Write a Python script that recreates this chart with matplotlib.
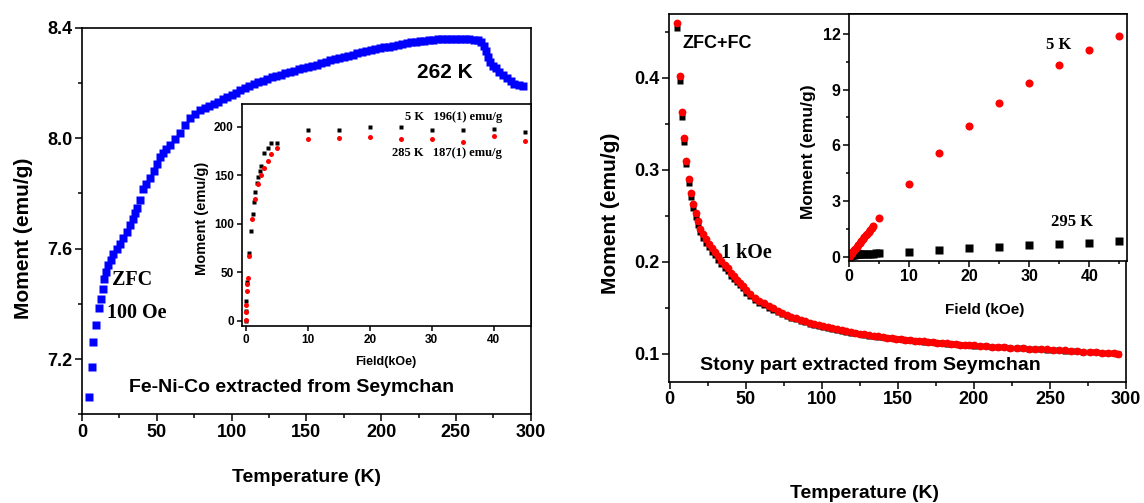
import numpy as np
import matplotlib
matplotlib.use('Agg')
import matplotlib.pyplot as plt
from matplotlib.ticker import MultipleLocator

plt.rcParams['font.family'] = 'Liberation Sans'
plt.rcParams['font.weight'] = 'bold'

W, H = 1144, 503
SERIF = 'Liberation Serif'

# ---- left panel: Fe-Ni-Co, ZFC 100 Oe ----
t_feni = [5, 6.5, 7.6, 9.4, 11.2, 12.5, 13.9, 15, 16.1, 17.7, 19.2, 21, 23.2, 25.5, 27.7, 29.9,
          32.2, 34.4, 35.5, 36.6, 38.8, 41, 43, 45.5, 48, 50, 52, 54, 56.5, 59, 62, 65.6, 69,
          72.3, 75.5, 78.9, 82, 85, 88, 91, 94, 97, 100, 103, 106, 109, 112, 115, 118, 121, 124,
          127, 130, 133, 136, 139, 142, 145, 148, 151, 154, 157, 160, 163, 166, 169, 172, 175,
          178, 181, 184, 187, 190, 193, 196, 199, 202, 205, 208, 211, 214, 217, 220, 223, 226,
          229, 232, 235, 238, 241, 244, 247, 250, 253, 256, 259, 262, 265, 267, 268.5, 270,
          271.5, 273, 274.5, 276.5, 279, 281.5, 284, 286.5, 289, 292, 295]
m_feni = [7.062, 7.172, 7.260, 7.325, 7.385, 7.417, 7.455, 7.489, 7.515, 7.540, 7.558, 7.580,
          7.597, 7.615, 7.640, 7.660, 7.685, 7.708, 7.728, 7.747, 7.775, 7.815, 7.835, 7.855,
          7.880, 7.905, 7.930, 7.945, 7.960, 7.975, 7.995, 8.020, 8.048, 8.072, 8.088, 8.100,
          8.108, 8.115, 8.123, 8.131, 8.140, 8.149, 8.157, 8.165, 8.173, 8.182, 8.189, 8.196,
          8.202, 8.208, 8.215, 8.220, 8.225, 8.230, 8.235, 8.240, 8.244, 8.249, 8.253, 8.257,
          8.261, 8.266, 8.271, 8.276, 8.281, 8.285, 8.289, 8.293, 8.297, 8.302, 8.307, 8.311,
          8.315, 8.318, 8.321, 8.325, 8.328, 8.331, 8.335, 8.338, 8.341, 8.344, 8.347, 8.349,
          8.351, 8.353, 8.355, 8.356, 8.357, 8.358, 8.359, 8.360, 8.360, 8.359, 8.358, 8.357,
          8.356, 8.354, 8.347, 8.335, 8.315, 8.295, 8.276, 8.262, 8.252, 8.241, 8.230, 8.218,
          8.206, 8.197, 8.192, 8.190]

# inset: M(H) of Fe-Ni-Co at 5 K and 285 K
f_5k_a = [0, 0.05, 0.1, 0.25, 0.5, 0.8, 1.1, 1.3, 1.55, 1.8, 2.0, 2.3, 2.5, 3.0, 3.5, 4.0, 5,
          10, 15, 20, 25, 30, 35, 40, 45]
m_5k_a = [0, 10, 20, 40, 70, 92.5, 110, 122.7, 133, 141.6, 148.5, 154.6, 159.5, 173.2, 177.7,
          182.9, 182.9, 196.3, 196.3, 199.4, 199.7, 197, 196.3, 198, 194.3]
f_285k = [0, 0.05, 0.1, 0.2, 0.25, 0.3, 0.53, 1.0, 1.5, 2.0, 2.5, 3.0, 3.5, 4.0, 5, 10, 15, 20,
          25, 30, 35, 40, 45]
m_285k = [0.7, 8.6, 16.5, 30.9, 37.5, 43.7, 66.7, 104.5, 125.8, 140.6, 150.2, 157.4, 164.3,
          172.2, 178.4, 187, 188, 189, 187.5, 187.5, 184.5, 190.7, 185.6]

# ---- right panel: stony part, ZFC+FC 1 kOe ----
t_stony = [5, 6.5, 8, 9.5, 11, 12.5, 14, 15.5, 17, 18.5, 20, 22, 24, 26, 28, 30, 32, 34, 36, 38,
           40, 42, 44, 46, 48, 50, 53, 56, 59, 62, 65, 68, 71, 74, 77, 80, 83, 86, 89, 92, 95,
           98, 101, 104, 107, 110, 113, 116, 119, 122, 125, 128, 131, 134, 137, 140, 143, 146,
           149, 152, 155, 158, 161, 164, 167, 170, 173, 176, 179, 182, 185, 188, 191, 194, 197,
           200, 204, 208, 212, 216, 220, 224, 228, 232, 236, 240, 244, 248, 252, 256, 260, 264,
           268, 272, 276, 280, 284, 288, 292, 295]
m_fc = [0.460, 0.402, 0.363, 0.335, 0.310, 0.290, 0.275, 0.263, 0.253, 0.244, 0.236, 0.230,
        0.2245, 0.2195, 0.2148, 0.2105, 0.206, 0.2015, 0.197, 0.193, 0.188, 0.1842, 0.1805,
        0.177, 0.1735, 0.169, 0.1655, 0.161, 0.1578, 0.1548, 0.152, 0.1495, 0.147, 0.1447,
        0.1425, 0.1405, 0.1386, 0.137, 0.1355, 0.134, 0.1327, 0.1314, 0.1301, 0.129, 0.1279,
        0.1268, 0.1258, 0.1248, 0.1239, 0.123, 0.1221, 0.1213, 0.1205, 0.1198, 0.1191, 0.1184,
        0.1178, 0.1172, 0.1166, 0.116, 0.1155, 0.115, 0.1145, 0.114, 0.1135, 0.113, 0.1126,
        0.1122, 0.1118, 0.1114, 0.111, 0.1106, 0.1102, 0.1098, 0.1095, 0.1092, 0.1088, 0.1084,
        0.108, 0.1076, 0.1072, 0.1068, 0.1064, 0.106, 0.1057, 0.1054, 0.1051, 0.1048, 0.1044,
        0.1041, 0.1037, 0.1034, 0.103, 0.1026, 0.1022, 0.1018, 0.1014, 0.101, 0.1006, 0.1002]
m_zfc = [0.454, 0.397, 0.358, 0.330, 0.306, 0.286, 0.271, 0.259, 0.249, 0.240, 0.232, 0.226,
         0.2205, 0.2157, 0.2111, 0.207, 0.2026, 0.1982, 0.1938, 0.1899, 0.1851, 0.1814,
         0.1778, 0.1744, 0.1711, 0.1667, 0.1633, 0.1589, 0.1558, 0.1529, 0.1502, 0.1478,
         0.1454, 0.1432, 0.1411, 0.1392, 0.1374, 0.1358, 0.1344, 0.133, 0.1317, 0.1304,
         0.1292, 0.1281, 0.127, 0.126, 0.125, 0.1241, 0.1232, 0.1223, 0.1215, 0.1207, 0.12,
         0.1193, 0.1186, 0.118, 0.1174, 0.1168, 0.1162, 0.1157, 0.1152, 0.1147, 0.1142,
         0.1137, 0.1133, 0.1128, 0.1124, 0.112, 0.1116, 0.1112, 0.1108, 0.1104, 0.1101,
         0.1097, 0.1094, 0.1091, 0.1087, 0.1083, 0.1079, 0.1075, 0.1071, 0.1067, 0.1063,
         0.106, 0.1056, 0.1053, 0.105, 0.1047, 0.1043, 0.104, 0.1036, 0.1033, 0.1029, 0.1025,
         0.1021, 0.1017, 0.1013, 0.1009, 0.1005, 0.1001]

# inset: M(H) of stony part at 5 K and 295 K
f_5k_b = [0, 0.1, 0.2, 0.3, 0.4, 0.5, 0.75, 1.0, 1.25, 1.5, 1.75, 2.0, 2.25, 2.5, 2.75, 3.0,
          3.25, 3.5, 3.75, 4.0, 5, 10, 15, 20, 25, 30, 35, 40, 45]
m_5k_b = [0.02, 0.08, 0.13, 0.17, 0.21, 0.25, 0.35, 0.45, 0.55, 0.65, 0.75, 0.86, 0.96, 1.06,
          1.16, 1.26, 1.36, 1.46, 1.56, 1.68, 2.07, 3.93, 5.58, 7.03, 8.29, 9.37, 10.30, 11.12,
          11.88]
f_295k = [0, 0.1, 0.2, 0.3, 0.4, 0.5, 0.75, 1.0, 1.25, 1.5, 1.75, 2.0, 2.5, 3.0, 3.5, 4.0, 4.5,
          5, 10, 15, 20, 25, 30, 35, 40, 45]
m_295k = [0.0, 0.03, 0.06, 0.08, 0.10, 0.11, 0.13, 0.14, 0.15, 0.155, 0.16, 0.165, 0.17, 0.175,
          0.18, 0.185, 0.19, 0.20, 0.29, 0.38, 0.46, 0.55, 0.62, 0.69, 0.775, 0.86]


def px(x, y):
    # pixel position (from top-left) -> figure fraction
    return x / W, 1 - y / H


def style(ax, size, major=5, minor=3):
    for s in ax.spines.values():
        s.set_linewidth(1.2)
    ax.tick_params(which='both', direction='out', top=False, right=False, width=1.1,
                   labelsize=size, pad=2)
    ax.tick_params(which='major', length=major)
    ax.tick_params(which='minor', length=minor)
    for lab in ax.get_xticklabels() + ax.get_yticklabels():
        lab.set_fontweight('bold')


fig = plt.figure(figsize=(W / 100, H / 100), dpi=100)

# left main
ax1 = fig.add_axes([81.9 / W, 1 - 414.3 / H, 448.8 / W, 386.7 / H])
ax1.plot(t_feni, m_feni, 's', color='#0000ff', ms=5.2, mec='none')
ax1.set_xlim(0, 300)
ax1.set_ylim(7.0, 8.4)
ax1.xaxis.set_major_locator(MultipleLocator(50))
ax1.xaxis.set_minor_locator(MultipleLocator(25))
ax1.yaxis.set_major_locator(MultipleLocator(0.4))
ax1.yaxis.set_minor_locator(MultipleLocator(0.2))
ax1.set_yticks([7.2, 7.6, 8.0, 8.4])
style(ax1, 13)
ax1.set_xlabel('Temperature (K)', fontsize=14, fontweight='bold', va='center')
ax1.xaxis.set_label_coords(*px(307, 477), transform=fig.transFigure)
ax1.set_ylabel('Moment (emu/g)', fontsize=15, fontweight='bold', va='center')
ax1.yaxis.set_label_coords(*px(24, 238), transform=fig.transFigure)
fig.text(*px(112, 280), 'ZFC', family=SERIF, fontsize=14.5, fontweight='bold', va='center')
fig.text(*px(107, 313), '100 Oe', family=SERIF, fontsize=14.5, fontweight='bold', va='center')
fig.text(*px(445, 73), '262 K', fontsize=15, fontweight='bold', ha='center', va='center')
fig.text(*px(292, 388), 'Fe-Ni-Co extracted from Seymchan', fontsize=14, fontweight='bold',
         ha='center', va='center')

# left inset
ax2 = fig.add_axes([241.5 / W, 1 - 326 / H, 289.2 / W, 222.5 / H])
ax2.plot(f_5k_a, m_5k_a, 's', color='black', ms=3.2, mec='none')
ax2.plot(f_285k, m_285k, 'o', color='#ff0000', ms=3.6, mec='none')
ax2.set_xlim(-0.7, 46)
ax2.set_ylim(-5.5, 224)
ax2.xaxis.set_major_locator(MultipleLocator(10))
ax2.yaxis.set_major_locator(MultipleLocator(50))
style(ax2, 8.5, major=3.5)
ax2.set_xlabel('Field(kOe)', fontsize=9, fontweight='bold', va='center')
ax2.xaxis.set_label_coords(*px(386, 362), transform=fig.transFigure)
ax2.set_ylabel('Moment (emu/g)', fontsize=10.5, fontweight='bold', va='center')
ax2.yaxis.set_label_coords(*px(202, 218), transform=fig.transFigure)
fig.text(*px(502, 117), '5 K   196(1) emu/g', family=SERIF, fontsize=9, fontweight='bold',
         ha='right', va='center')
fig.text(*px(502, 153), '285 K   187(1) emu/g', family=SERIF, fontsize=9, fontweight='bold',
         ha='right', va='center')

# right main
ax3 = fig.add_axes([669 / W, 1 - 381.5 / H, 457 / W, 368 / H])
ax3.plot(t_stony, m_zfc, 's', color='black', ms=4.8, mec='none')
ax3.plot(t_stony, m_fc, 'o', color='#ff0000', ms=5.6, mec='none')
ax3.set_xlim(-0.5, 300)
ax3.set_ylim(0.07, 0.47)
ax3.xaxis.set_major_locator(MultipleLocator(50))
ax3.xaxis.set_minor_locator(MultipleLocator(25))
ax3.yaxis.set_major_locator(MultipleLocator(0.1))
ax3.yaxis.set_minor_locator(MultipleLocator(0.05))
style(ax3, 13)
ax3.set_xlabel('Temperature (K)', fontsize=14, fontweight='bold', va='center')
ax3.xaxis.set_label_coords(*px(864, 493), transform=fig.transFigure)
ax3.set_ylabel('Moment (emu/g)', fontsize=15, fontweight='bold', va='center')
ax3.yaxis.set_label_coords(*px(610, 213), transform=fig.transFigure)
fig.text(*px(683, 43), 'ZFC+FC', fontsize=13, fontweight='bold', va='center')
fig.text(*px(721, 253), '1 kOe', family=SERIF, fontsize=14.5, fontweight='bold', va='center')
fig.text(*px(870, 365), 'Stony part extracted from Seymchan', fontsize=14, fontweight='bold',
         ha='center', va='center')

# right inset
ax4 = fig.add_axes([849 / W, 1 - 260.7 / H, 277.5 / W, 246.7 / H])
ax4.plot(f_295k, m_295k, 's', color='black', ms=5.3, mec='none')
ax4.plot(f_5k_b, m_5k_b, 'o', color='#ff0000', ms=5.8, mec='none')
ax4.set_xlim(-0.05, 46.2)
ax4.set_ylim(-0.2, 13.06)
ax4.xaxis.set_major_locator(MultipleLocator(10))
ax4.xaxis.set_minor_locator(MultipleLocator(5))
ax4.yaxis.set_major_locator(MultipleLocator(3))
ax4.yaxis.set_minor_locator(MultipleLocator(1.5))
style(ax4, 11.5, major=4, minor=2.5)
ax4.set_xlabel('Field (kOe)', fontsize=11, fontweight='bold', va='center')
ax4.xaxis.set_label_coords(*px(985, 310), transform=fig.transFigure)
ax4.set_ylabel('Moment (emu/g)', fontsize=12.5, fontweight='bold', va='center')
ax4.yaxis.set_label_coords(*px(808, 152), transform=fig.transFigure)
fig.text(*px(1059, 45), '5 K', family=SERIF, fontsize=12, fontweight='bold', ha='center',
         va='center')
fig.text(*px(1072, 222), '295 K', family=SERIF, fontsize=12, fontweight='bold', ha='center',
         va='center')

fig.savefig('out.png', dpi=100, facecolor='white')
